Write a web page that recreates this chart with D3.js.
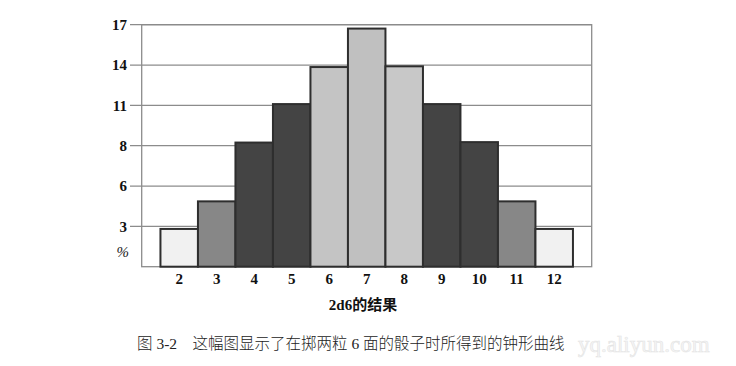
<!DOCTYPE html>
<html><head><meta charset="utf-8">
<script src="https://cdn.jsdelivr.net/npm/d3@7"></script>
<style>
body{margin:0;background:#fff;}
svg{display:block;}
text{font-family:"Liberation Serif","DejaVu Serif","Noto Sans CJK SC",serif;}
</style></head><body>
<svg id="c" width="736" height="366"></svg>
<script>
const categories = ["2","3","4","5","6","7","8","9","10","11","12"];
const values = [2.6, 4.5, 8.55, 11.2, 13.75, 16.4, 13.8, 11.2, 8.58, 4.5, 2.6];
const shades = ["#f1f1f1","#878787","#444444","#444444","#c4c4c4","#c0c0c0","#c8c8c8","#444444","#444444","#878787","#f1f1f1"];
const tickValues = [2.778, 5.556, 8.333, 11.111, 13.889, 16.667];
const tickLabels = ["3","6","8","11","14","17"];
const xTitle = "2d6的结果";
const caption = "图 3-2　这幅图显示了在掷两粒 6 面的骰子时所得到的钟形曲线";

const svg = d3.select("#c");
const L = 141.7, R = 591.7, T = 24.7, B = 266.7;
const x = d3.scaleBand().domain(categories).range([L, R]).paddingInner(0).paddingOuter(0.5);
const y = d3.scaleLinear().domain([0, 16.667]).range([B, T]);

// gridlines
const yAxis = d3.axisLeft(y).tickValues(tickValues).tickFormat((d,i)=>tickLabels[i]).tickSize(0).tickPadding(0);
svg.append("g").selectAll("line").data(tickValues).join("line")
  .attr("x1", 130).attr("x2", R).attr("y1", d=>y(d)).attr("y2", d=>y(d))
  .attr("stroke", "#8c8c8c").attr("stroke-width", 1.2);

// frame
svg.append("rect").attr("x", L).attr("y", T).attr("width", R-L).attr("height", B-T)
  .attr("fill","none").attr("stroke","#8c8c8c").attr("stroke-width",1.3);

// bars
svg.append("g").selectAll("rect").data(categories).join("rect")
  .attr("x", d=>x(d)).attr("width", x.bandwidth())
  .attr("y", (d,i)=>y(values[i])).attr("height", (d,i)=>B - y(values[i]))
  .attr("fill", (d,i)=>shades[i]).attr("stroke","#2e2e2e").attr("stroke-width",2);

// y axis labels
const gy = svg.append("g").attr("transform", `translate(127,0)`).call(yAxis);
gy.select(".domain").remove();
gy.selectAll("text").attr("font-size", 15).attr("font-weight","bold").attr("fill","#111")
  .attr("font-family","Liberation Serif, serif").attr("dy","0.32em");
svg.append("text").attr("x", 129).attr("y", 257).attr("text-anchor","end")
  .attr("font-size", 15).attr("font-style","italic").attr("fill","#222").text("%");

// x axis labels
const xAxis = d3.axisBottom(x).tickSize(0).tickPadding(0);
const gx = svg.append("g").attr("transform", `translate(0,${B+7})`).call(xAxis);
gx.select(".domain").remove();
gx.selectAll("text").attr("font-size", 15).attr("font-weight","bold").attr("fill","#111")
  .attr("font-family","Liberation Serif, serif").attr("dy","0.71em");

// x title
svg.append("text").attr("x", 363).attr("y", 310).attr("text-anchor","middle")
  .attr("font-size", 15).attr("font-weight","bold").attr("fill","#111").text(xTitle);

// faint watermark
svg.append("text").attr("x", 578).attr("y", 352)
  .attr("font-size", 23).attr("fill","#f6f6f6").attr("stroke","#e4e4e4").attr("stroke-width",0.6)
  .attr("font-family","DejaVu Sans, sans-serif").text("yq.aliyun.com");

// caption
svg.append("text").attr("x", 137).attr("y", 349)
  .attr("font-size", 15.5).attr("fill","#222").attr("font-family","Noto Sans CJK SC, sans-serif").attr("font-weight","300")
  .text(caption);
</script>
</body></html>
